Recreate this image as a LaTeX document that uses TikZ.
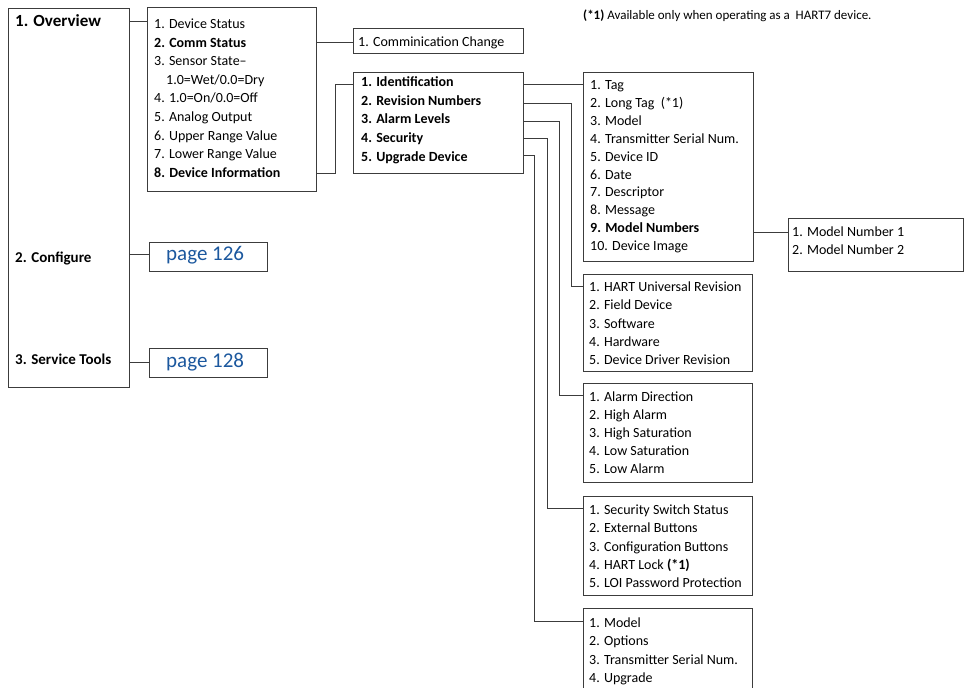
\documentclass[tikz,border=0pt]{standalone}
\usepackage{fontspec}
\setmainfont{Carlito}
\definecolor{linegray}{RGB}{60,60,60}
\definecolor{pageblue}{RGB}{28,88,158}
\tikzset{
  box/.style={draw=linegray, line width=1pt, inner sep=0pt, anchor=north west},
  conn/.style={draw=linegray, line width=1pt},
  item/.style={anchor=base west, inner sep=0pt, font=\fontsize{14}{16}\selectfont, text=black},
  toplabel/.style={anchor=base west, inner sep=0pt, font=\bfseries\fontsize{15}{17}\selectfont, text=black},
  pagelabel/.style={anchor=base west, inner sep=0pt, font=\fontsize{21}{24}\selectfont, text=pageblue},
}
\newcommand\boxat[5]{\node[box, minimum width={#4-#2}, minimum height={#5-#3}] (#1) at (#2,#3) {};}
\newcommand\itemlist[5]{\foreach \mtxt [count=\i] in {#5} {\node[item] (#1-\i) at ({#2},{#3+(\i-1)*#4}) {\mtxt};}}
\begin{document}
\begin{tikzpicture}[x=1pt,y=-1pt]
\useasboundingbox (0,0) rectangle (964,688);
\clip (0,0) rectangle (964,688);
% boxes
\boxat{ov}{8}{8}{129}{387}
\boxat{osub}{147}{7}{316}{191}
\boxat{comm}{353}{28}{523}{53}
\boxat{ident}{353}{72}{523}{173}
\boxat{tag}{583}{72}{753}{261}
\boxat{mnum}{788}{218}{963}{271}
\boxat{rev}{583}{274}{752}{371}
\boxat{alarm}{583}{383}{752}{482}
\boxat{sec}{583}{496}{752}{595}
\boxat{upg}{583}{608}{752}{710}
\boxat{p126}{149}{242}{267}{271}
\boxat{p128}{149}{348}{267}{377}
% labels in the first column
\node[toplabel, font=\bfseries\fontsize{17}{19}\selectfont] (ovt) at (15,26) {1. Overview};
\node[toplabel] (cft) at (15,262) {2. Configure};
\node[toplabel] (stt) at (15,364) {3. Service Tools};
\node[pagelabel] (p126t) at (166,260.5) {page 126};
\node[pagelabel] (p128t) at (166,367.5) {page 128};
% footnote
\node[anchor=base west, inner sep=0pt, font=\fontsize{13}{15}\selectfont] (note) at (583,19.5) {\textbf{(*1)} Available only when operating as a\ \ HART7 device.};
% menu items
\itemlist{os}{154}{28.5}{18.6}{1. Device Status, \textbf{2. Comm Status}, 3. Sensor State–, \hspace*{12pt}1.0=Wet/0.0=Dry, 4. 1.0=On/0.0=Off, 5. Analog Output, 6. Upper Range Value, 7. Lower Range Value, \textbf{8. Device Information}}
\itemlist{cc}{358}{46.5}{18}{1. Comminication Change}
\itemlist{id}{361}{86.5}{18.7}{\textbf{1. Identification}, \textbf{2. Revision Numbers}, \textbf{3. Alarm Levels}, \textbf{4. Security}, \textbf{5. Upgrade Device}}
\itemlist{tg}{590}{89.5}{17.9}{1. Tag, 2. Long Tag\ \ (*1), 3. Model, 4. Transmitter Serial Num., 5. Device ID, 6. Date, 7. Descriptor, 8. Message, \textbf{9. Model Numbers}, 10. Device Image}
\itemlist{mn}{792}{236.5}{18}{1. Model Number 1, 2. Model Number 2}
\itemlist{rv}{589}{291.5}{18.3}{1. HART Universal Revision, 2. Field Device, 3. Software, 4. Hardware, 5. Device Driver Revision}
\itemlist{al}{589}{401.5}{18}{1. Alarm Direction, 2. High Alarm, 3. High Saturation, 4. Low Saturation, 5. Low Alarm}
\itemlist{sc}{589}{514.5}{18.3}{1. Security Switch Status, 2. External Buttons, 3. Configuration Buttons, 4. HART Lock \textbf{(*1)}, 5. LOI Password Protection}
\itemlist{ug}{589}{627.5}{18.3}{1. Model, 2. Options, 3. Transmitter Serial Num., 4. Upgrade}
% connectors
\draw[conn] (ov.east |- 0,21) -- (osub.west |- 0,21);
\draw[conn] (ov.east |- 0,254) -- (p126.west |- 0,254);
\draw[conn] (ov.east |- 0,362) -- (p128.west |- 0,362);
\draw[conn] (osub.east |- 0,42) -- (comm.west |- 0,42);
\draw[conn] (osub.east |- 0,173) -- (335,173) -- (335,84) -- (ident.west |- 0,84);
\draw[conn] (ident.east |- 0,84) -- (tag.west |- 0,84);
\draw[conn] (ident.east |- 0,103) -- (571,103) -- (571,286) -- (rev.west |- 0,286);
\draw[conn] (ident.east |- 0,121) -- (559,121) -- (559,395) -- (alarm.west |- 0,395);
\draw[conn] (ident.east |- 0,138) -- (547,138) -- (547,508) -- (sec.west |- 0,508);
\draw[conn] (ident.east |- 0,155) -- (534,155) -- (534,621) -- (upg.west |- 0,621);
\draw[conn] (tag.east |- 0,232) -- (mnum.west |- 0,232);
\end{tikzpicture}
\end{document}
